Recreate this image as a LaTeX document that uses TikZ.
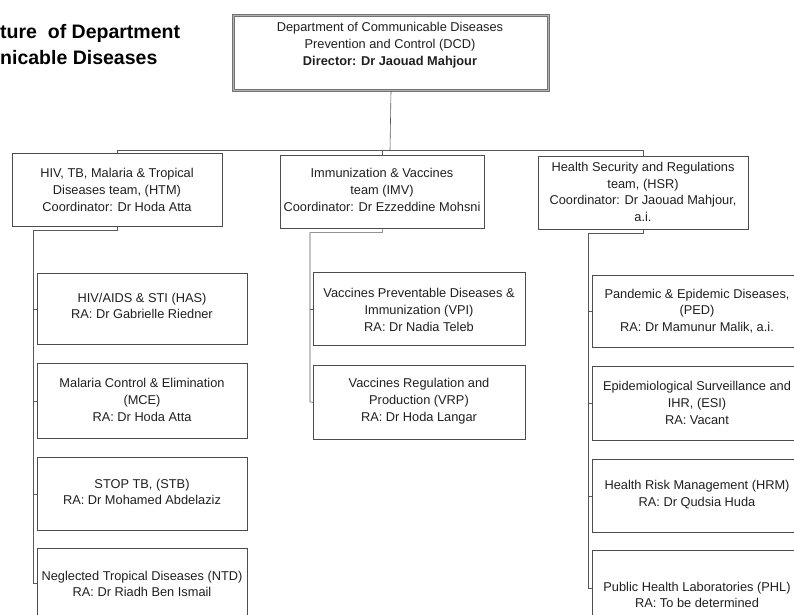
\documentclass[tikz,border=0pt]{standalone}
\usepackage{fontspec}
\setmainfont{Liberation Sans}
\newcommand\bodyfont{\fontsize{12.8}{16.8}\selectfont}
\newcommand\titlefont{\fontsize{19.5}{26}\selectfont\bfseries}
\tikzset{
 box/.style={draw=black!70, line width=0.6pt, anchor=north west, inner sep=0pt, minimum width=210pt, minimum height=73pt},
 txt/.style={align=center, font=\bodyfont, text=black!88, inner sep=0pt},
 conn/.style={draw=black!65, line width=0.6pt},
 topbox/.style={draw=black!55, line width=1.0pt, double=black!30, double distance=1.2pt, anchor=north west, inner sep=0pt},
 ttl/.style={font=\titlefont, anchor=base west, inner sep=0pt, text=black},
}
\begin{document}
\begin{tikzpicture}[x=1pt,y=-1pt]
\clip (0,0) rectangle (794,614);
% title
\node[ttl] (title1) at (0,38) {ture~ of Department};
\node[ttl] (title2) at (0,64) {nicable Diseases};
% boxes
\node[topbox, minimum width=315pt, minimum height=75pt] (dcd) at (233,15) {};
\node[box] (htm) at (12,153) {};
\node[box, minimum width=204pt] (imv) at (280,155) {};
\node[box] (hsr) at (538,156) {};
\node[box, minimum height=71pt] (has) at (37,273) {};
\node[box, minimum height=75pt] (mce) at (37,363) {};
\node[box] (stb) at (37,457) {};
\node[box, minimum height=80pt] (ntd) at (37,548) {};
\node[box, minimum width=212pt] (vpi) at (313,272) {};
\node[box, minimum width=212pt, minimum height=74pt] (vrp) at (313,365) {};
\node[box, minimum height=72pt] (ped) at (592,275) {};
\node[box, minimum height=74pt] (esi) at (592,366) {};
\node[box] (hrm) at (592,459) {};
\node[box, minimum height=80pt] (phl) at (592,550) {};
% texts
\node[txt] (dcdt) at (390,45) {Department of Communicable Diseases\\Prevention and Control (DCD)\\\textbf{Director: Dr Jaouad Mahjour}};
\node[txt] (htmt) at (117,190) {HIV, TB, Malaria \& Tropical\\Diseases team, (HTM)\\Coordinator: Dr Hoda Atta};
\node[txt] (imvt) at (382,190) {Immunization \& Vaccines\\team (IMV)\\Coordinator: Dr Ezzeddine Mohsni};
\node[txt] (hsrt) at (643,192) {Health Security and Regulations\\team, (HSR)\\Coordinator: Dr Jaouad Mahjour,\\a.i.};
\node[txt] (hast) at (142,306) {HIV/AIDS \& STI (HAS)\\RA: Dr Gabrielle Riedner};
\node[txt] (mcet) at (142,400) {Malaria Control \& Elimination\\(MCE)\\RA: Dr Hoda Atta};
\node[txt] (stbt) at (142,492) {STOP TB, (STB)\\RA: Dr Mohamed Abdelaziz};
\node[txt] (ntdt) at (142,584) {Neglected Tropical Diseases (NTD)\\RA: Dr Riadh Ben Ismail};
\node[txt] (vpit) at (419,310) {Vaccines Preventable Diseases \&\\Immunization (VPI)\\RA: Dr Nadia Teleb};
\node[txt] (vrpt) at (419,401) {Vaccines Regulation and\\Production (VRP)\\RA: Dr Hoda Langar};
\node[txt] (pedt) at (697,311) {Pandemic \& Epidemic Diseases,\\(PED)\\RA: Dr Mamunur Malik, a.i.};
\node[txt] (esit) at (697,403) {Epidemiological Surveillance and\\IHR, (ESI)\\RA: Vacant};
\node[txt] (hrmt) at (697,494.5) {Health Risk Management (HRM)\\RA: Dr Qudsia Huda};
\node[txt] (phlt) at (697,595) {Public Health Laboratories (PHL)\\RA: To be determined};
% top connectors
\coordinate (bus) at (390,150);
\draw[conn] (dcd.south) -- (bus);
\draw[conn] (htm.north) |- (bus);
\draw[conn] (hsr.north) |- (bus);
\draw[conn] (imv.north) -- (imv.north |- bus);
% left trunk
\coordinate (htmend) at (33,583);
\draw[conn] (htm.south) -- ++(0,4) -| (htmend) -- (htmend -| ntd.west);
\foreach \n in {has,mce,stb} \draw[conn] (\n.west) -- (\n.west -| htmend);
% middle trunk
\coordinate (imvend) at (310,402);
\draw[conn] (imv.south) -- ++(0,4) -| (imvend) -- (vrp.west);
\draw[conn] (vpi.west) -- (vpi.west -| imvend);
% right trunk
\coordinate (hsrend) at (588,588);
\draw[conn] (hsr.south) -- ++(0,4) -| (hsrend) -- (hsrend -| phl.west);
\foreach \n in {ped,esi,hrm} \draw[conn] (\n.west) -- (\n.west -| hsrend);
\end{tikzpicture}
\end{document}
